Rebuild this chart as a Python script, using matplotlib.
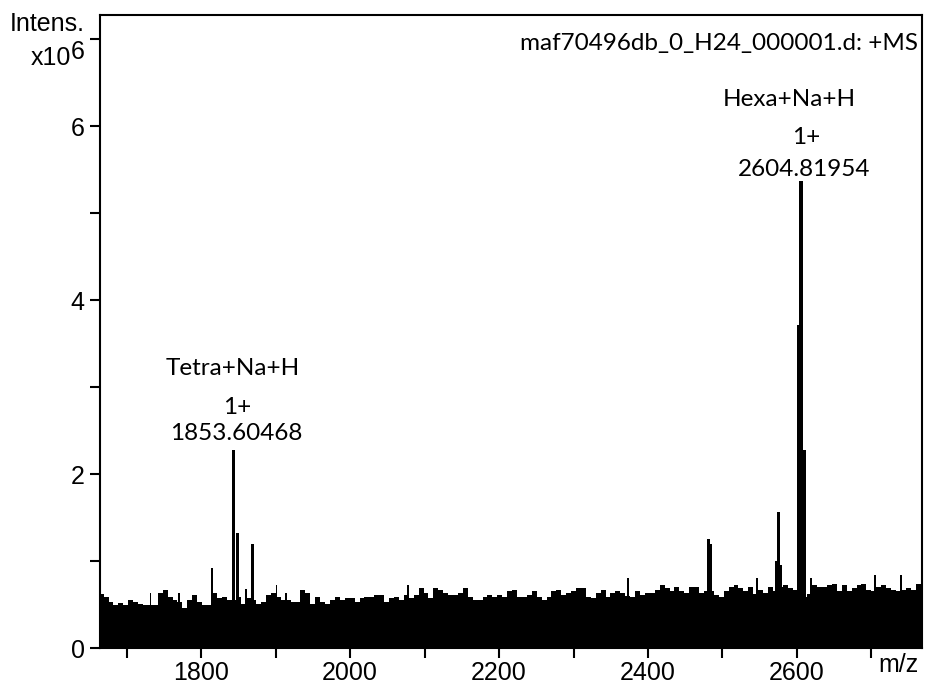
import matplotlib
matplotlib.use("Agg")
import matplotlib.pyplot as plt
import numpy as np

# baseline noise (x1e6), evenly binned from 1662 to 2766 m/z
noise = [0.62,0.59,0.53,0.49,0.52,0.49,0.55,0.53,0.51,0.49,0.50,0.49,0.63,0.67,0.59,0.55,0.53,0.46,0.55,0.61,0.53,0.49,0.50,0.63,0.57,0.59,0.55,0.55,
         0.59,0.51,0.57,0.55,0.51,0.53,0.61,0.63,0.59,0.55,0.55,0.53,0.53,0.67,0.63,0.51,0.59,0.53,0.51,0.55,0.59,0.55,0.57,0.57,0.53,0.57,0.59,0.59,
         0.61,0.61,0.53,0.57,0.59,0.55,0.61,0.57,0.61,0.69,0.63,0.57,0.69,0.67,0.63,0.61,0.61,0.63,0.69,0.59,0.55,0.55,0.59,0.61,0.59,0.61,0.59,0.65,
         0.67,0.59,0.59,0.61,0.65,0.59,0.55,0.59,0.65,0.67,0.61,0.63,0.65,0.69,0.69,0.59,0.57,0.63,0.67,0.59,0.63,0.65,0.63,0.60,0.59,0.65,0.61,0.63,
         0.63,0.67,0.72,0.69,0.65,0.70,0.65,0.63,0.70,0.70,0.63,0.65,0.65,0.61,0.59,0.65,0.70,0.72,0.69,0.65,0.70,0.62,0.67,0.63,0.70,0.65,0.70,0.72,
         0.69,0.67,0.60,0.59,0.62,0.72,0.70,0.70,0.72,0.74,0.65,0.72,0.65,0.69,0.72,0.74,0.67,0.65,0.70,0.72,0.69,0.67,0.65,0.67,0.69,0.67,0.74]
noise_start, noise_end = 1662.3, 2766.0

# peaks: m/z, intensity (x1e6), width
peak_mz = [1732, 1770, 1814, 1843.8, 1849, 1860, 1869, 1901, 1914, 2078, 2373,
           2481.5, 2484.7, 2546, 2572, 2575, 2578, 2601.6, 2605.4, 2609.6, 2619, 2705, 2740]
peak_int = [0.63, 0.63, 0.92, 2.28, 1.32, 0.68, 1.20, 0.72, 0.63, 0.72, 0.80,
            1.25, 1.20, 0.80, 1.00, 1.56, 0.95, 3.71, 5.37, 2.28, 0.80, 0.84, 0.84]
peak_w = [2.2, 2.2, 2.8, 4.2, 3.6, 2.2, 3.8, 2.2, 2.2, 2.2, 2.2,
          3.8, 3.8, 2.2, 3.8, 3.8, 3.8, 4.2, 4.4, 4.2, 2.2, 2.2, 2.2]

xlim = (1664, 2768)
ylim = (0, 7.28)

tick_font = "Liberation Sans"
label_font = "Lato"

fig = plt.figure(figsize=(9.29, 6.87), dpi=100)
ax = fig.add_axes([100/929, 39/687, 822/929, 633/687])

edges = np.linspace(noise_start, noise_end, len(noise) + 1)
ax.stairs(noise, edges, fill=True, color="black", linewidth=0)
ax.bar(peak_mz, peak_int, width=peak_w, color="black", linewidth=0)

ax.set_xlim(*xlim)
ax.set_ylim(*ylim)

ax.set_xticks([1800, 2000, 2200, 2400, 2600])
ax.set_xticks(np.arange(1700, 2768, 100), minor=True)
ax.set_yticks([0, 2, 4, 6])
ax.set_yticks(np.arange(0, 8, 1), minor=True)
ax.tick_params(which="both", direction="out", length=7, width=1.5)
ax.tick_params(axis="x", pad=2)
ax.tick_params(axis="y", pad=4)
for lab in ax.get_xticklabels() + ax.get_yticklabels():
    lab.set_fontfamily(tick_font)
    lab.set_fontsize(18)
for s in ax.spines.values():
    s.set_linewidth(1.5)

fig.text(10/929, 1 - 24/687, "Intens.", fontsize=18, family=tick_font, ha="left", va="center")
fig.text(71/929, 1 - 65/687, "x10", fontsize=18, family=tick_font, ha="right", va="baseline")
fig.text(71/929, 1 - 59/687, "6", fontsize=18, family=tick_font, ha="left", va="baseline")
fig.text(898/929, 1 - 665/687, "m/z", fontsize=18, family=tick_font, ha="center", va="center")

ax.text(0.995, 0.972, "maf70496db_0_H24_000001.d: +MS", transform=ax.transAxes,
        fontsize=17.5, family=label_font, ha="right", va="top")

ax.text(2590, 6.31, "Hexa+Na+H", fontsize=17.5, family=label_font, ha="center", va="center")
ax.text(2612, 5.87, "1+", fontsize=17.5, family=label_font, ha="center", va="center")
ax.text(2610, 5.50, "2604.81954", fontsize=17.5, family=label_font, ha="center", va="center")

ax.text(1842, 3.22, "Tetra+Na+H", fontsize=17.5, family=label_font, ha="center", va="center")
ax.text(1848, 2.77, "1+", fontsize=17.5, family=label_font, ha="center", va="center")
ax.text(1847, 2.47, "1853.60468", fontsize=17.5, family=label_font, ha="center", va="center")

fig.savefig("out.png", dpi=100)
